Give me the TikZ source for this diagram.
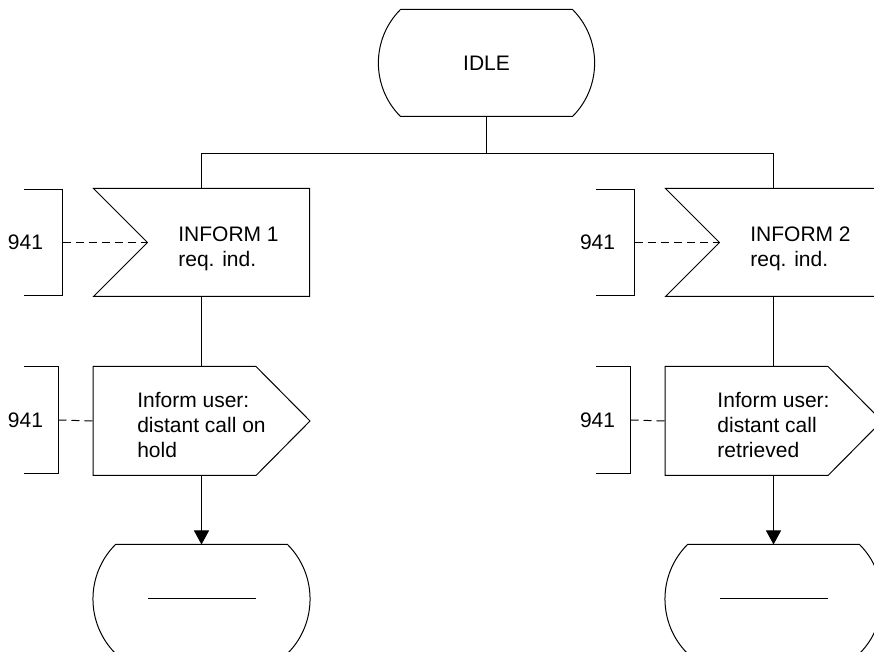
\documentclass[tikz,border=0pt]{standalone}
\usepackage{fontspec}
\setmainfont{Liberation Sans}
\usetikzlibrary{arrows.meta}

\tikzset{
  statebox/.style={minimum width=215pt, minimum height=106pt, inner sep=0pt},
  inbox/.style={minimum width=161pt, minimum height=107pt, inner sep=0pt, align=left, text height=49pt, text depth=0pt},
  outbox/.style={minimum width=216pt, minimum height=108pt, inner sep=0pt, align=left, text height=74pt, text depth=0pt},
  refbox/.style={text width=54pt, minimum height=105pt, inner sep=0pt, align=left},
  link/.style={dash pattern=on 8pt off 5pt},
  flow/.style={-{Triangle[length=14pt,width=15pt]}},
}

\begin{document}
\begin{tikzpicture}[x=1pt, y=1pt, line width=1pt, font=\fontsize{21}{25}\selectfont]
\useasboundingbox (0,0) rectangle (874,652);

% start state
\node[statebox] (idle) at (486.5,589) {IDLE};
\draw ([xshift=22pt]idle.north west) -- ([xshift=-22pt]idle.north east)
  to[bend left=45] ([xshift=-22pt]idle.south east) -- ([xshift=22pt]idle.south west)
  to[bend left=45] ([xshift=22pt]idle.north west) -- cycle;

% left branch
\node[inbox] (in1) at (228.5,409.5) {INFORM 1\\req. ind.};
\draw ([xshift=-54pt]in1.north west) -- (in1.north east) -- (in1.south east)
  -- ([xshift=-54pt]in1.south west) -- (in1.west) -- cycle;
\node[outbox] (out1) at (201.5,231) {Inform user:\\distant call on\\hold};
\draw (out1.north west) -- ([xshift=-54pt]out1.north east) -- (out1.east)
  -- ([xshift=-54pt]out1.south east) -- (out1.south west) -- cycle;
\node[statebox, minimum height=108pt] (end1) at (201.5,53) {};
\draw ([xshift=22pt]end1.north west) -- ([xshift=-22pt]end1.north east)
  to[bend left=45] ([xshift=-22pt]end1.south east) -- ([xshift=22pt]end1.south west)
  to[bend left=45] ([xshift=22pt]end1.north west) -- cycle;
\draw ([xshift=-54pt]end1.center) -- ([xshift=54pt]end1.center);

\node[refbox] (ref1) at (35,409.5) {941};
\draw (ref1.north east) ++(-39,0) -- (ref1.north east) -- (ref1.south east) -- ++(-39,0);
\draw[link] (ref1.east) -- (in1.west);
\node[refbox, text width=50pt, minimum height=106pt] (ref2) at (33,232) {941};
\draw (ref2.north east) ++(-35,0) -- (ref2.north east) -- (ref2.south east) -- ++(-35,0);
\draw[link] (ref2.east) -- (out1.west);

% right branch
\node[inbox] (in2) at (800.5,409.5) {INFORM 2\\req. ind.};
\draw ([xshift=-54pt]in2.north west) -- (in2.north east) -- (in2.south east)
  -- ([xshift=-54pt]in2.south west) -- (in2.west) -- cycle;
\node[outbox] (out2) at (773.5,231) {Inform user:\\distant call\\retrieved};
\draw (out2.north west) -- ([xshift=-54pt]out2.north east) -- (out2.east)
  -- ([xshift=-54pt]out2.south east) -- (out2.south west) -- cycle;
\node[statebox, minimum height=108pt] (end2) at (773.5,53) {};
\draw ([xshift=22pt]end2.north west) -- ([xshift=-22pt]end2.north east)
  to[bend left=45] ([xshift=-22pt]end2.south east) -- ([xshift=22pt]end2.south west)
  to[bend left=45] ([xshift=22pt]end2.north west) -- cycle;
\draw ([xshift=-54pt]end2.center) -- ([xshift=54pt]end2.center);

\node[refbox] (ref3) at (607,409.5) {941};
\draw (ref3.north east) ++(-39,0) -- (ref3.north east) -- (ref3.south east) -- ++(-39,0);
\draw[link] (ref3.east) -- (in2.west);
\node[refbox, text width=50pt, minimum height=106pt] (ref4) at (605,232) {941};
\draw (ref4.north east) ++(-35,0) -- (ref4.north east) -- (ref4.south east) -- ++(-35,0);
\draw[link] (ref4.east) -- (out2.west);

% flow lines
\draw (idle.south) -- ++(0,-37) coordinate (fork) -| (in1.north -| out1.north);
\draw (fork) -| (in2.north -| out2.north);
\draw (in1.south -| out1.north) -- (out1.north);
\draw (in2.south -| out2.north) -- (out2.north);
\draw[flow] (out1.south) -- (end1.north);
\draw[flow] (out2.south) -- (end2.north);
\end{tikzpicture}
\end{document}
